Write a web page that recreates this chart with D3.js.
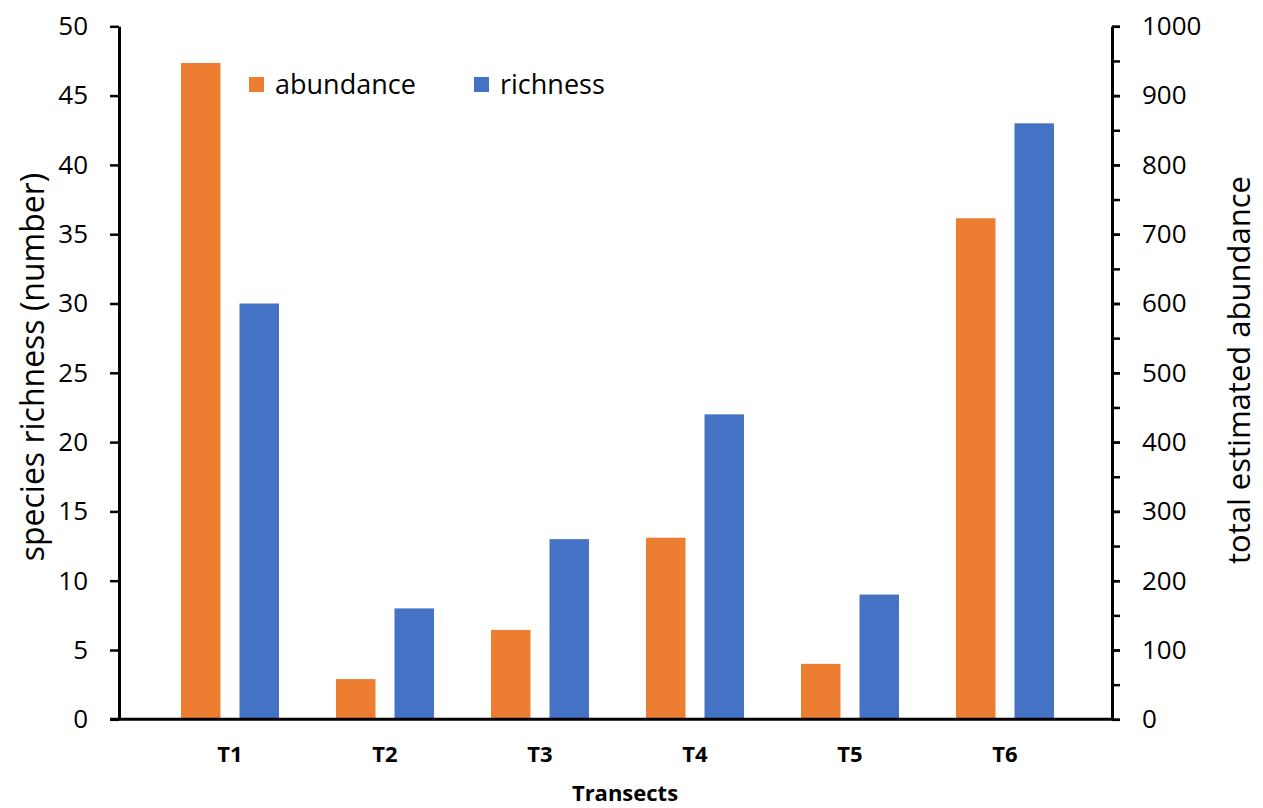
<!DOCTYPE html>
<html>
<head>
<meta charset="utf-8">
<script src="https://cdn.jsdelivr.net/npm/d3@7"></script>
<style>
  html, body { margin: 0; padding: 0; background: #fff; }
  svg { display: block; font-family: "Open Sans", sans-serif; }
</style>
</head>
<body>
<svg id="chart" width="1263" height="808"></svg>
<script>
// Transects and measured values
const transects = ["T1", "T2", "T3", "T4", "T5", "T6"];
const abundance = [947, 58, 129, 262, 80, 723];   // total estimated abundance (right axis)
const richness  = [30, 8, 13, 22, 9, 43];          // species richness (left axis)
const richnessTicks  = [0, 5, 10, 15, 20, 25, 30, 35, 40, 45, 50];
const abundanceTicks = [0, 100, 200, 300, 400, 500, 600, 700, 800, 900, 1000];
const abundanceMinor = [0, 50, 100, 150, 200, 250, 300, 350, 400, 450, 500, 550, 600, 650, 700, 750, 800, 850, 900, 950, 1000];

const ORANGE = "#ED7D31", BLUE = "#4472C4";
const svg = d3.select("#chart");

const plotLeft = 119, plotRight = 1112, plotTop = 26.3, plotBottom = 719.3;

const yL = d3.scaleLinear().domain([0, 50]).range([plotBottom, plotTop]);
const yR = d3.scaleLinear().domain([0, 1000]).range([plotBottom, plotTop]);
const x = d3.scaleBand().domain(transects).range([152.5, 1082.5]).padding(0);
const series = ["abundance", "richness"];

const bars = svg.append("g");
transects.forEach((t, i) => {
  const c = x(t) + x.bandwidth() / 2;
  const xs = d3.scaleBand().domain(series).range([c - 49, c + 49]).paddingInner(0.325);
  bars.append("rect")
    .attr("x", xs("abundance")).attr("width", xs.bandwidth())
    .attr("y", yR(abundance[i])).attr("height", plotBottom - yR(abundance[i]))
    .attr("fill", ORANGE);
  bars.append("rect")
    .attr("x", xs("richness")).attr("width", xs.bandwidth())
    .attr("y", yL(richness[i])).attr("height", plotBottom - yL(richness[i]))
    .attr("fill", BLUE);
});

// Left axis
const gL = svg.append("g").attr("transform", `translate(${plotLeft},0)`)
  .call(d3.axisLeft(yL).tickValues(richnessTicks).tickSize(9).tickPadding(22).tickSizeOuter(0));
// Right axis with minor ticks every 50
const gRm = svg.append("g").attr("transform", `translate(${plotRight},0)`)
  .call(d3.axisRight(yR).tickValues(abundanceMinor).tickSize(8).tickFormat("").tickSizeOuter(0));
gRm.select(".domain").remove();
const gR = svg.append("g").attr("transform", `translate(${plotRight},0)`)
  .call(d3.axisRight(yR).tickValues(abundanceTicks).tickFormat(d3.format("d"))
    .tickSize(8).tickPadding(22).tickSizeOuter(0));

// Bottom axis
const gB = svg.append("g").attr("transform", `translate(0,${plotBottom})`)
  .call(d3.axisBottom(x).tickSize(0).tickPadding(27).tickSizeOuter(0));
gB.select(".domain").attr("d", `M${plotLeft - 9},0H${plotRight}`);

[gL, gR, gRm, gB].forEach(g => {
  g.selectAll(".domain").attr("stroke", "#000").attr("stroke-width", 3);
  g.selectAll(".tick line").attr("stroke", "#000").attr("stroke-width", 2.5);
});
[gL, gR].forEach(g => g.selectAll("text").attr("font-size", 26).attr("fill", "#000")
  .attr("font-family", "'Open Sans', sans-serif"));
gB.selectAll("text").attr("font-size", 22).attr("font-weight", "bold").attr("fill", "#000")
  .attr("font-family", "'Open Sans', sans-serif");

// Axis titles
svg.append("text")
  .attr("transform", `translate(44,367) rotate(-90)`)
  .attr("text-anchor", "middle").attr("font-size", 32).text("species richness (number)");
svg.append("text")
  .attr("transform", `translate(1250,370) rotate(-90)`)
  .attr("text-anchor", "middle").attr("font-size", 31).text("total estimated abundance");
svg.append("text")
  .attr("x", 625).attr("y", 801)
  .attr("text-anchor", "middle").attr("font-size", 22).attr("font-weight", "bold").text("Transects");

// Legend
const legend = [
  { label: "abundance", color: ORANGE, x: 249 },
  { label: "richness", color: BLUE, x: 474 }
];
const lg = svg.append("g");
legend.forEach(d => {
  lg.append("rect").attr("x", d.x).attr("y", 77).attr("width", 15).attr("height", 15).attr("fill", d.color);
  lg.append("text").attr("x", d.x + 26).attr("y", 94).attr("font-size", 27).text(d.label);
});
</script>
</body>
</html>
